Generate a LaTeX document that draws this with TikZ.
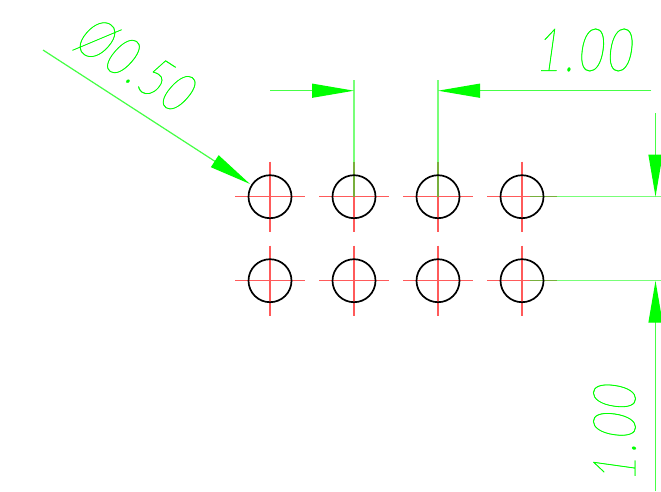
\documentclass[tikz,border=0pt]{standalone}
\usepackage{fontspec}
\usetikzlibrary{arrows.meta}
\newfontfamily\dimfont[FakeStretch=0.72,FakeSlant=0.14,LetterSpace=6,FakeBold=0.5]{Lato Hairline}
\definecolor{dimgreen}{RGB}{0,255,0}
\definecolor{paleblend}{RGB}{120,255,120}
\definecolor{paleshaft}{RGB}{70,255,70}
\definecolor{palered}{RGB}{255,90,90}
\definecolor{overlapgreen}{RGB}{120,175,60}
\tikzset{
	hole/.style={circle, draw=black, line width=0.034cm, inner sep=0, minimum size=0.86cm},
	centerline/.style={draw=palered, line width=0.028cm},
	dimline/.style={draw=paleblend, line width=0.028cm},
	overlapline/.style={draw=overlapgreen, line width=0.028cm},
	dimarrow/.style={draw=paleshaft, fill=dimgreen, line width=0.024cm, -{Triangle[length=0.84cm, width=0.28cm, color=dimgreen]}},
	dimtext/.style={text=dimgreen, inner sep=0, font=\dimfont\fontsize{34}{34}\selectfont}
}

\begin{document}
\begin{tikzpicture}[x=0.02cm, y=-0.02cm]
			%%%%% START %%%%%
			\useasboundingbox (0, 0) rectangle (661, 491);
			
			\foreach \xpos in {270, 354, 438, 522} {
				\foreach \ypos in {196.7, 280.7} {
					\draw[centerline] (\xpos-35, \ypos) -- (\xpos+35, \ypos);
					\draw[centerline] (\xpos, \ypos-35) -- (\xpos, \ypos+35);
				}
			}
			
			% extension lines
			\coordinate (topa) at (354, 80);
			\coordinate (topb) at (438, 80);
			\coordinate (rowa) at (530, 196.7);
			\coordinate (rowb) at (530, 280.7);
			\coordinate (enda) at (661, 196.7);
			\coordinate (endb) at (661, 280.7);
			\draw[dimline] (topa) -- (354, 196.7);
			\draw[dimline] (topb) -- (438, 196.7);
			\draw[dimline] (rowa) -- (enda);
			\draw[dimline] (rowb) -- (endb);
			\draw[overlapline] (354, 162) -- (354, 196.7);
			\draw[overlapline] (438, 162) -- (438, 196.7);
			\draw[overlapline] (rowa) -- (557, 196.7);
			\draw[overlapline] (rowb) -- (557, 280.7);
			
			\foreach \col/\xpos in {1/270, 2/354, 3/438, 4/522} {
				\foreach \row/\ypos in {1/196.7, 2/280.7} {
					\node[hole] (h\col\row) at (\xpos, \ypos) {};
				}
			}
			
			% horizontal 1.00
			\coordinate (arra) at (270, 90.7);
			\coordinate (tipa) at (354, 90.7);
			\coordinate (arrb) at (651, 90.7);
			\coordinate (tipb) at (438, 90.7);
			\draw[dimarrow] (arra) -- (tipa);
			\draw[dimarrow] (arrb) -- (tipb);
			\node[dimtext] (toplabel) at (583, 50) {1.00};
			
			% vertical 1.00
			\coordinate (arrc) at (655.5, 113);
			\coordinate (tipc) at (655.5, 196.7);
			\coordinate (arrd) at (655.5, 491);
			\coordinate (tipd) at (655.5, 280.7);
			\draw[dimarrow] (arrc) -- (tipc);
			\draw[dimarrow] (arrd) -- (tipd);
			\node[dimtext, rotate=90] (sidelabel) at (614.5, 434) {1.00};
			
			% diameter
			\coordinate (arre) at (43, 50);
			\coordinate (tipe) at (250, 184);
			\draw[dimarrow] (arre) -- (tipe);
			\node[dimtext, rotate=-33, scale=0.94] (diamlabel) at (134, 64) {Ø0.50};
			
			%%%%% END %%%%%
		\end{tikzpicture}
\end{document}
